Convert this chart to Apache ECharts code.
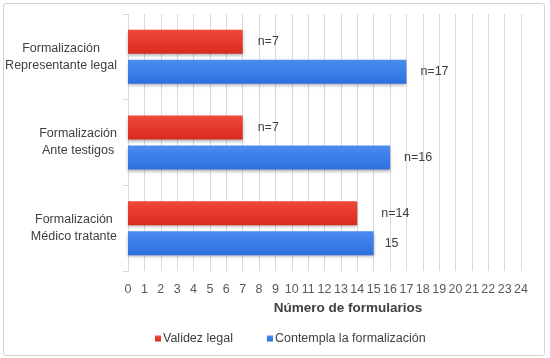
<!DOCTYPE html>
<html>
<head>
<meta charset="utf-8">
<script src="https://cdn.jsdelivr.net/npm/echarts@6/dist/echarts.min.js"></script>
<style>
  html, body { margin: 0; padding: 0; background: #fff; }
  #frame { position: absolute; left: 3px; top: 3px; width: 542px; height: 353px; border: 1px solid #d4d4d4; border-radius: 3px; box-sizing: border-box; }
  #chart { position: absolute; left: 0; top: 0; width: 550px; height: 358px; }
</style>
</head>
<body>
<div id="frame"></div>
<div id="chart"></div>
<script>
// bottom to top, as the category axis draws them
const categories = [
  ['Formalización', 'Médico tratante'],
  ['Formalización', 'Ante testigos'],
  ['Formalización', 'Representante legal']
]
const validezLegal = [14, 7, 7]
const contempla = [15, 16, 17]
const validezLabels = ['n=14', 'n=7', 'n=7']
const contemplaLabels = ['15', 'n=16', 'n=17']
const xTicks = { min: 0, max: 24, interval: 1 }

// label gaps differ a bit in the original
const validezGap = [24, 15, 15]
const contemplaGap = [11, 14, 14]

const chart = echarts.init(document.getElementById('chart'), null, { renderer: 'canvas' })

const barGradient = (top, bottom) => new echarts.graphic.LinearGradient(0, 0, 0, 1, [
  { offset: 0, color: top },
  { offset: 1, color: bottom }
])

const labelStyle = {
  show: true,
  position: 'right',
  color: '#404040',
  fontSize: 12.5,
  fontFamily: 'Liberation Sans'
}

const withGaps = (values, gaps, texts) => values.map((v, i) => ({
  value: v,
  label: { distance: gaps[i], formatter: texts[i] }
}))

chart.setOption({
  animation: false,
  textStyle: { fontFamily: 'Liberation Sans' },
  legend: {
    data: ['Validez legal', 'Contempla la formalización'],
    bottom: 8,
    left: 150,
    icon: 'rect',
    itemWidth: 6,
    itemHeight: 6,
    itemGap: 34,
    textStyle: { color: '#404040', fontSize: 12.5, padding: [0, 0, 0, -3] }
  },
  grid: { left: 128, right: 29, top: 14, bottom: 87 },
  xAxis: {
    type: 'value',
    min: xTicks.min,
    max: xTicks.max,
    interval: xTicks.interval,
    name: 'Número de formularios',
    nameLocation: 'middle',
    nameGap: 23,
    nameTextStyle: {
      color: '#404040', fontSize: 13.5, fontWeight: 'bold',
      padding: [0, 0, 0, 47]
    },
    axisLine: { show: false },
    axisTick: { show: false },
    axisLabel: { color: '#595959', fontSize: 12.5, margin: 12 },
    splitLine: { lineStyle: { color: '#d9d9d9', width: 1 } }
  },
  yAxis: {
    type: 'category',
    data: categories.map((c) => c.join('\n')),
    axisLine: { show: true, lineStyle: { color: '#d9d9d9' } },
    axisTick: { show: true, length: 5, lineStyle: { color: '#d9d9d9' } },
    axisLabel: {
      color: '#404040', fontSize: 12.5, margin: 11,
      align: 'right',
      formatter: (v) => v.split('\n').map((s) => '{c|' + s + '}').join('\n'),
      rich: {
        c: { align: 'center', fontSize: 12.5, color: '#404040', lineHeight: 17 }
      }
    }
  },
  series: [
    {
      name: 'Validez legal',
      type: 'bar',
      data: withGaps(validezLegal, validezGap, validezLabels),
      barWidth: 24,
      barGap: '25%',
      itemStyle: {
        color: barGradient('#f0483c', '#d92a1f'),
        shadowColor: 'rgba(0,0,0,0.3)',
        shadowBlur: 3,
        shadowOffsetY: 2
      },
      label: labelStyle
    },
    {
      name: 'Contempla la formalización',
      type: 'bar',
      data: withGaps(contempla, contemplaGap, contemplaLabels),
      barWidth: 24,
      itemStyle: {
        color: barGradient('#4a8cf0', '#2e6fe0'),
        shadowColor: 'rgba(0,0,0,0.3)',
        shadowBlur: 3,
        shadowOffsetY: 2
      },
      label: labelStyle
    }
  ]
})
</script>
</body>
</html>
